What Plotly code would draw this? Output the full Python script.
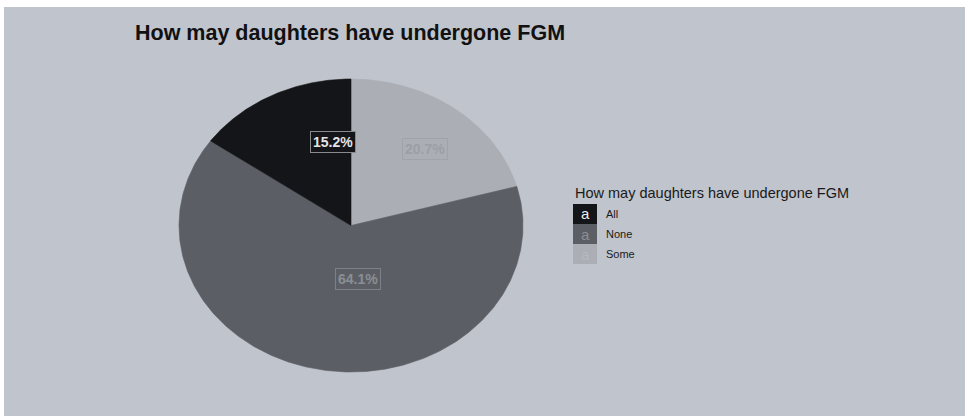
import numpy as np
import plotly.graph_objects as go

# ---- data ----
categories = ["All", "None", "Some"]
percent = [15.2, 64.1, 20.7]
title_text = "How may daughters have undergone FGM"

# ---- styling ----
W, H = 965, 416
BG = "#c0c4cc"
fill_colors = {"All": "#141518", "None": "#5b5e64", "Some": "#abaeb5"}
label_text_colors = {"All": "#e4e4e4", "None": "#8b8e94", "Some": "#9c9fa6"}
label_border_colors = {"All": "#8a8a8c", "None": "#7d8087", "Some": "#a0a3aa"}
key_text_colors = {"All": "#f0f0f0", "None": "#8b8e94", "Some": "#b6b9bf"}

# pie placement in pixels (ellipse: horizontal / vertical radius)
CX, CY, RX, RY = 351, 225.5, 172, 146.5
LABEL_R = 0.5
LABEL_NUDGE = (0.128, 0.126)

def px(x):
    return x / W

def py(y):
    return 1 - y / H

fig = go.Figure()

# slices drawn clockwise from 12 o'clock, in reversed stacking order
order = list(reversed(range(len(categories))))
total = sum(percent)
start = 0.0
label_pos = {}
for i in order:
    cat = categories[i]
    frac = percent[i] / total
    a0, a1 = start * 2 * np.pi, (start + frac) * 2 * np.pi
    t = np.linspace(a0, a1, 300)
    xs = np.concatenate([[0], np.sin(t), [0]])
    ys = np.concatenate([[0], np.cos(t), [0]])
    fig.add_trace(go.Scatter(
        x=xs, y=ys, mode="lines", fill="toself",
        fillcolor=fill_colors[cat],
        line=dict(color=fill_colors[cat], width=0.6),
        hoverinfo="skip", showlegend=False,
    ))
    mid = (a0 + a1) / 2
    label_pos[cat] = (LABEL_R * np.sin(mid) + LABEL_NUDGE[0],
                      LABEL_R * np.cos(mid) + LABEL_NUDGE[1])
    start += frac

annotations = []
for cat, val in zip(categories, percent):
    lx, ly = label_pos[cat]
    annotations.append(dict(
        x=lx, y=ly, xref="x", yref="y", text=f"<b>{val:.1f}%</b>",
        showarrow=False, font=dict(family="Liberation Sans, Arial", size=14,
                                   color=label_text_colors[cat]),
        bgcolor=fill_colors[cat], bordercolor=label_border_colors[cat],
        borderwidth=1, borderpad=2,
    ))

# title
annotations.append(dict(
    x=px(133), y=py(33), xref="paper", yref="paper", xanchor="left",
    yanchor="middle", text=f"<b>{title_text}</b>", showarrow=False,
    font=dict(family="Liberation Sans, Arial", size=21.5, color="#111111"),
))

# legend
LEG_X, LEG_TITLE_Y = 573, 193
KEY_W, KEY_H, KEY_TOP = 24, 20, 204
shapes = []
annotations.append(dict(
    x=px(LEG_X), y=py(LEG_TITLE_Y), xref="paper", yref="paper",
    xanchor="left", yanchor="middle", text=title_text, showarrow=False,
    font=dict(family="Liberation Sans, Arial", size=14.5, color="#1a1a1a"),
))
for k, cat in enumerate(categories):
    top = KEY_TOP + k * KEY_H
    shapes.append(dict(
        type="rect", xref="paper", yref="paper",
        x0=px(LEG_X), x1=px(LEG_X + KEY_W), y0=py(top + KEY_H), y1=py(top),
        fillcolor=fill_colors[cat], line=dict(width=0), layer="above",
    ))
    annotations.append(dict(
        x=px(LEG_X + KEY_W / 2), y=py(top + KEY_H / 2), xref="paper",
        yref="paper", text="a", showarrow=False,
        font=dict(family="Liberation Sans, Arial", size=15,
                  color=key_text_colors[cat]),
    ))
    annotations.append(dict(
        x=px(LEG_X + KEY_W + 7), y=py(top + KEY_H / 2), xref="paper",
        yref="paper", xanchor="left", text=cat, showarrow=False,
        font=dict(family="Liberation Sans, Arial", size=11, color="#1a1a1a"),
    ))

# white strips along the top and left edges
shapes.append(dict(type="rect", xref="paper", yref="paper", x0=0, x1=1,
                   y0=py(7), y1=1, fillcolor="white", line=dict(width=0),
                   layer="above"))
shapes.append(dict(type="rect", xref="paper", yref="paper", x0=0, x1=px(4),
                   y0=0, y1=1, fillcolor="white", line=dict(width=0),
                   layer="above"))

fig.update_layout(
    width=W, height=H, margin=dict(l=0, r=0, t=0, b=0),
    paper_bgcolor=BG, plot_bgcolor=BG,
    xaxis=dict(range=[(0 - CX) / RX, (W - CX) / RX], visible=False,
               fixedrange=True),
    yaxis=dict(range=[(CY - H) / RY, CY / RY], visible=False,
               fixedrange=True),
    annotations=annotations, shapes=shapes, showlegend=False,
)

fig.write_html("out.html")
